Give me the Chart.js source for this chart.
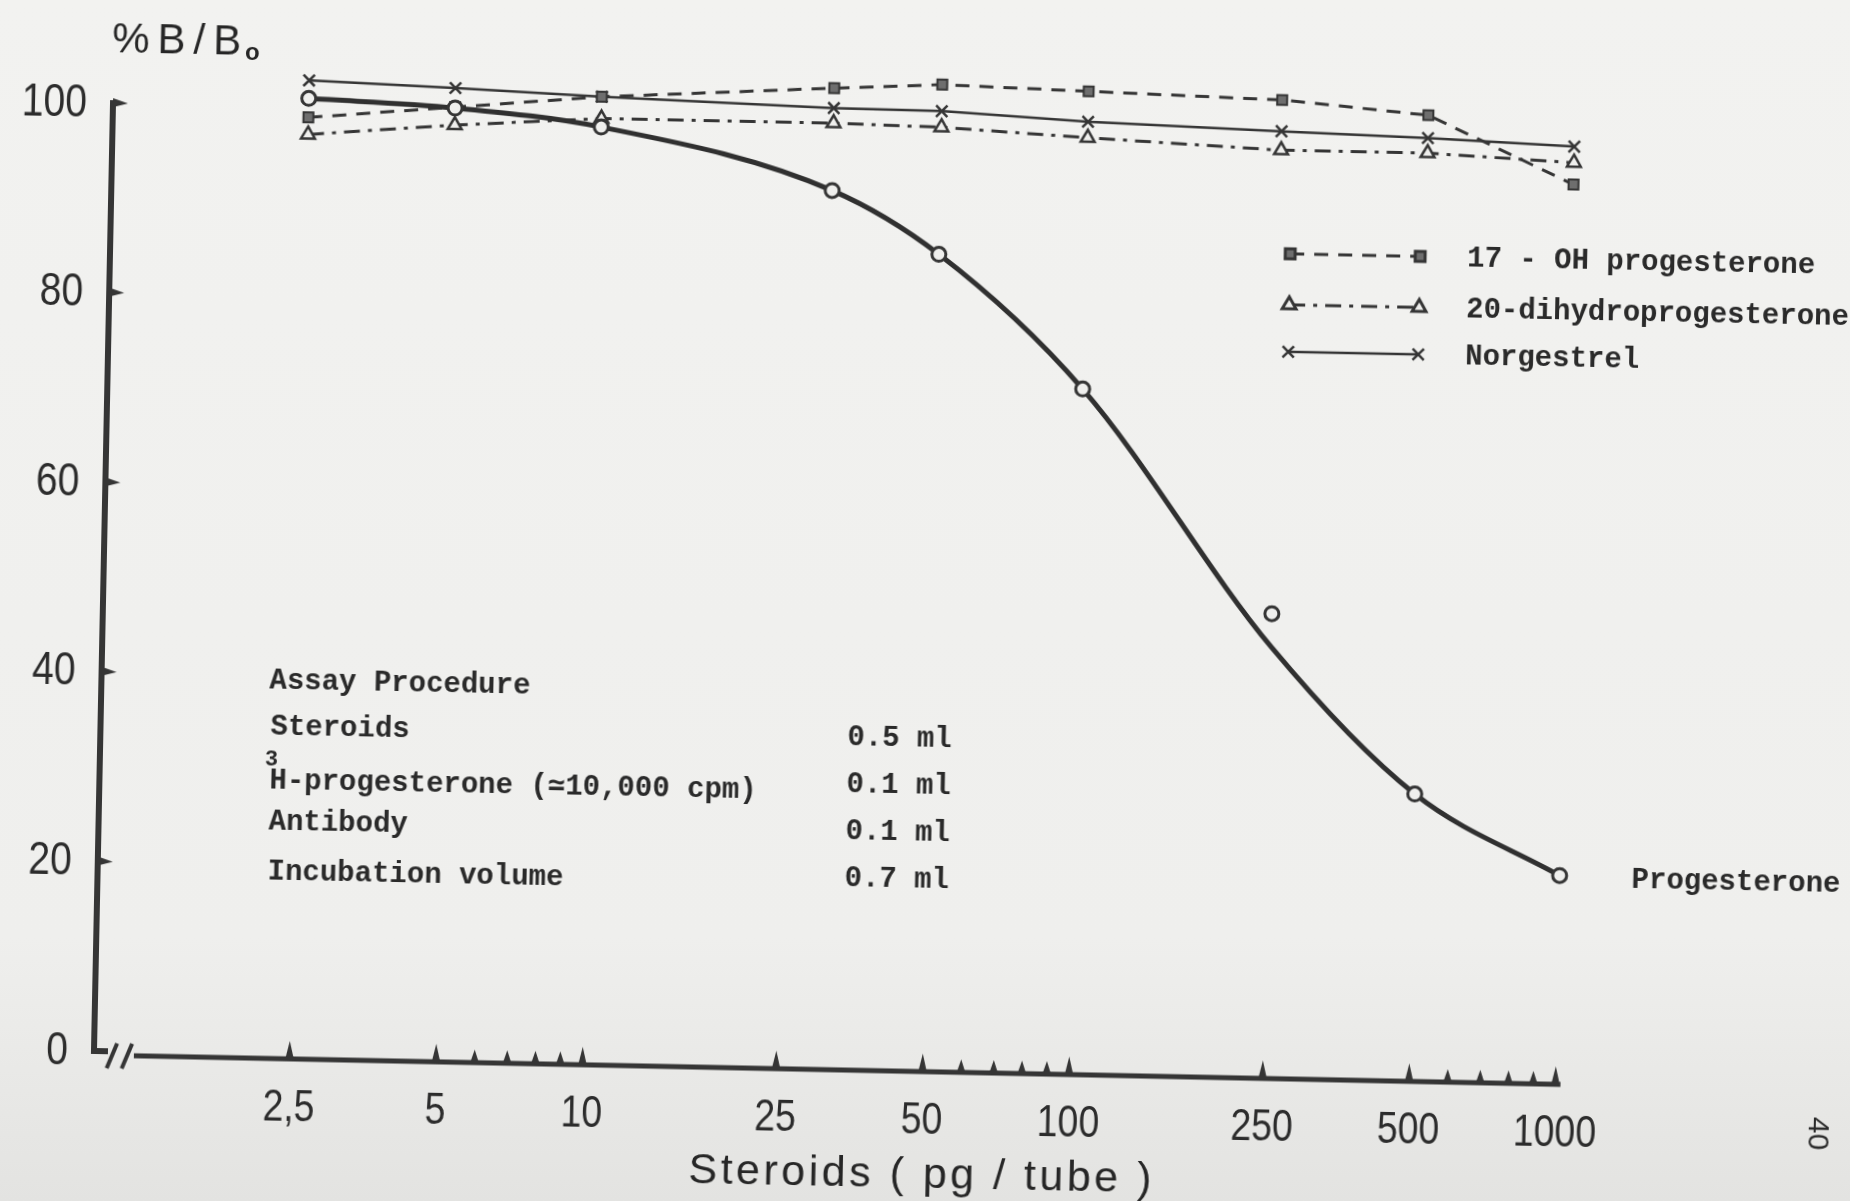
<!DOCTYPE html>
<html>
<head>
<meta charset="utf-8">
<script src="https://cdn.jsdelivr.net/npm/chart.js@4.4.1/dist/chart.umd.min.js"></script>
<style>
  html, body { margin:0; padding:0; }
  body {
    width:1850px; height:1201px; overflow:hidden;
    background: linear-gradient(#f2f2f0 0%, #efefed 78%, #e3e3e1 100%);
  }
  /* the scanned sheet sits a little skewed */
  #wrap {
    position:absolute; left:0; top:0; width:1850px; height:1201px;
    transform: rotate(1.15deg);
    transform-origin: 95px 1050px;
  }
</style>
</head>
<body>
<div id="wrap"><canvas id="chart" width="1850" height="1201"></canvas></div>
<script>

// ======================================
// DATA  (% B/B0 against steroid, pg/tube)
// ======================================
const doses = [2.5, 5, 10, 30, 50, 100, 250, 500, 1000];

const progesterone        = [100.9, 100.2, 98.5, 92.3, 85.8, 71.9, 48.6, 29.9, 21.6];
const progesteroneFit     = [100.9, 100.2, 98.5, 92.3, 85.8, 71.9, 45.1, 29.9, 21.6];
const ohProgesterone      = [98.9, 100.3, 101.7, 103.1, 103.7, 103.3, 102.8, 101.5, 94.5];
const dihydroProgesterone = [97.1, 98.4, 99.4, 99.4, 99.2, 98.4, 97.5, 97.5, 96.8];
const norgestrel          = [102.8, 102.3, 101.7, 101.0, 100.9, 100.1, 99.5, 99.1, 98.5];

const xTicks      = [2.5, 5, 10, 25, 50, 100, 250, 500, 1000];
const xTickLabels = ['2,5', '5', '10', '25', '50', '100', '250', '500', '1000'];
const xMinorTicks = [6, 7, 8, 9, 60, 70, 80, 90, 600, 700, 800, 900];
const yTicks      = [0, 20, 40, 60, 80, 100];

const assayRows    = ['Steroids', 'H-progesterone (\u224310,000 cpm)', 'Antibody', 'Incubation volume'];
const assayVolumes = ['0.5 ml', '0.1 ml', '0.1 ml', '0.7 ml'];

const toPoints = arr => doses.map((d, i) => ({ x: d, y: arr[i] }));

// ======================================
// STYLE
// ======================================
const ink = '#353535';
const paper = '#efefed';
const sans = '"Liberation Sans", Arial, sans-serif';
const mono = '"Liberation Mono", "Courier New", monospace';

function narrowText(ctx, text, x, y, align, squeeze){
  ctx.save();
  ctx.translate(x, y);
  ctx.scale(squeeze, 1);
  ctx.textAlign = align;
  ctx.fillText(text, 0, 0);
  ctx.restore();
}

// ======================================
// AXES, NOTES, LEGEND
// ======================================
const paperAxes = {

  id:'paperAxes',

  afterDraw(chart){

    const { ctx } = chart;
    const xs = chart.scales.x;
    const ys = chart.scales.y;

    const ax = xs.left - 2;
    const y0 = ys.getPixelForValue(0);
    const y100 = ys.getPixelForValue(100);
    const xEnd = xs.getPixelForValue(1000);

    ctx.save();
    ctx.strokeStyle = ink;
    ctx.fillStyle = ink;

    // y axis + foot
    ctx.lineWidth = 6;
    ctx.lineJoin = 'miter';
    ctx.beginPath();
    ctx.moveTo(ax, y100 - 3);
    ctx.lineTo(ax, y0);
    ctx.lineTo(ax + 14, y0);
    ctx.stroke();

    // break marks
    ctx.lineWidth = 4;
    [13, 28].forEach(off => {
      ctx.beginPath();
      ctx.moveTo(ax + off, y0 + 17);
      ctx.lineTo(ax + off + 10, y0 - 8);
      ctx.stroke();
    });

    // x axis
    ctx.lineWidth = 5;
    ctx.beginPath();
    ctx.moveTo(ax + 40, y0 + 4);
    ctx.lineTo(xEnd + 5, y0 + 4);
    ctx.stroke();

    // x tick marks
    const xTickMark = (v, h) => {
      const px = xs.getPixelForValue(v);
      ctx.beginPath();
      ctx.moveTo(px - 4, y0 + 3);
      ctx.lineTo(px, y0 - h);
      ctx.lineTo(px + 4, y0 + 3);
      ctx.closePath();
      ctx.fill();
    };
    xTicks.forEach(v => xTickMark(v, 14));
    xMinorTicks.forEach(v => xTickMark(v, 9));

    // y tick marks
    yTicks.slice(1).forEach(v => {
      const py = ys.getPixelForValue(v);
      ctx.beginPath();
      ctx.moveTo(ax, py - 5);
      ctx.lineTo(ax + 15, py);
      ctx.lineTo(ax, py + 4);
      ctx.closePath();
      ctx.fill();
    });

    // tick labels
    ctx.fillStyle = '#2c2c2c';
    ctx.textBaseline = 'middle';
    ctx.font = '44px ' + sans;
    xTicks.forEach((v, i) => {
      narrowText(ctx, xTickLabels[i], xs.getPixelForValue(v), y0 + 54, 'center', 0.85);
    });
    ctx.font = '46px ' + sans;
    yTicks.forEach(v => {
      narrowText(ctx, String(v), ax - 26, ys.getPixelForValue(v) + 1, 'right', 0.85);
    });

    // axis titles
    ctx.fillStyle = '#262626';
    ctx.font = '42px ' + sans;
    ctx.textAlign = 'left';
    ctx.letterSpacing = '8px';
    ctx.fillText('%B/B', 92, 40);
    const w = ctx.measureText('%B/B').width;
    ctx.letterSpacing = '0px';
    ctx.font = 'bold 24px ' + sans;
    ctx.fillText('o', 92 + w - 4, 50);

    ctx.font = '43px ' + sans;
    ctx.textAlign = 'center';
    ctx.letterSpacing = '3.5px';
    ctx.fillText('Steroids ( pg / tube )', 924, 1159);
    ctx.letterSpacing = '0px';

    // assay procedure block
    ctx.font = 'bold 29px ' + mono;
    ctx.textAlign = 'left';
    ctx.fillStyle = '#2a2a2a';
    ctx.fillText('Assay Procedure', 262, 678);
    const rowY = [724, 778, 819, 869];
    const volY = [723, 770, 817, 864];
    assayRows.forEach((t, i) => ctx.fillText(t, 264, rowY[i]));
    assayVolumes.forEach((t, i) => ctx.fillText(t, 841, volY[i]));
    ctx.font = 'bold 22px ' + mono;
    ctx.fillText('3', 259, 756);

    // curve name at its last point
    ctx.font = 'bold 29px ' + mono;
    ctx.fillText('Progesterone',
      xs.getPixelForValue(doses[doses.length - 1]) + 72,
      ys.getPixelForValue(progesterone[progesterone.length - 1]) + 3);

    // legend
    const rows = [
      { ds: chart.data.datasets[2], y: 230 },
      { ds: chart.data.datasets[3], y: 281 },
      { ds: chart.data.datasets[4], y: 328 }
    ];
    rows.forEach(r => {
      const ds = r.ds;
      ctx.save();
      ctx.strokeStyle = ds.borderColor;
      ctx.lineWidth = ds.borderWidth;
      ctx.setLineDash(ds.borderDash || []);
      ctx.beginPath();
      ctx.moveTo(1274, r.y);
      ctx.lineTo(1404, r.y);
      ctx.stroke();
      ctx.setLineDash([]);
      ctx.fillStyle = ds.pointBackgroundColor;
      ctx.strokeStyle = ds.borderColor;
      const opts = { pointStyle: ds.pointStyle, radius: ds.pointRadius,
                     borderWidth: ds.pointBorderWidth, rotation: 0 };
      Chart.helpers.drawPoint(ctx, opts, 1274, r.y);
      Chart.helpers.drawPoint(ctx, opts, 1404, r.y);
      ctx.restore();
      ctx.fillStyle = '#2a2a2a';
      ctx.font = 'bold 29px ' + mono;
      ctx.textAlign = 'left';
      ctx.fillText(ds.label, 1451, r.y + 2);
    });

    // page number on the margin
    ctx.save();
    ctx.translate(1818, 1099);
    ctx.rotate(Math.PI / 2);
    ctx.font = '30px ' + sans;
    ctx.textAlign = 'center';
    ctx.fillText('40', 0, 0);
    ctx.restore();

    ctx.restore();
  }
};

// ======================================
// CHART
// ======================================
const ctx = document.getElementById('chart');

const chart = new Chart(ctx, {

  type:'line',

  data:{
    datasets:[

      {
        label:'Progesterone',
        data:toPoints(progesterone),
        showLine:false,
        pointStyle:'circle',
        pointRadius:7,
        pointBorderWidth:3,
        pointBackgroundColor:paper,
        borderColor:ink,
        order:0
      },

      {
        label:'Progesterone (fit)',
        data:toPoints(progesteroneFit),
        borderColor:'#303030',
        borderWidth:5,
        pointRadius:0,
        cubicInterpolationMode:'monotone',
        order:1
      },

      {
        label:'17 - OH progesterone',
        data:toPoints(ohProgesterone),
        borderColor:ink,
        borderWidth:3,
        borderDash:[14, 10],
        pointStyle:'rect',
        pointRadius:7,
        pointBorderWidth:2,
        pointBackgroundColor:'#6e6e6e',
        order:2
      },

      {
        label:'20-dihydroprogesterone',
        data:toPoints(dihydroProgesterone),
        borderColor:ink,
        borderWidth:3,
        borderDash:[16, 8, 4, 8],
        pointStyle:'triangle',
        pointRadius:8,
        pointBorderWidth:2.5,
        pointBackgroundColor:paper,
        order:3
      },

      {
        label:'Norgestrel',
        data:toPoints(norgestrel),
        borderColor:ink,
        borderWidth:2.5,
        pointStyle:'crossRot',
        pointRadius:8,
        pointBorderWidth:2.5,
        pointBackgroundColor:paper,
        order:4
      }

    ]
  },

  options:{

    responsive:false,
    animation:false,

    layout:{
      padding:{ left:96, right:274, top:46, bottom:150 }
    },

    plugins:{
      legend:{ display:false },
      tooltip:{ enabled:false }
    },

    scales:{
      x:{ type:'logarithmic', min:1, max:1100, display:false },
      y:{ type:'linear', min:0, max:106, display:false }
    }
  },

  plugins:[paperAxes]
});

</script>
</body>
</html>
